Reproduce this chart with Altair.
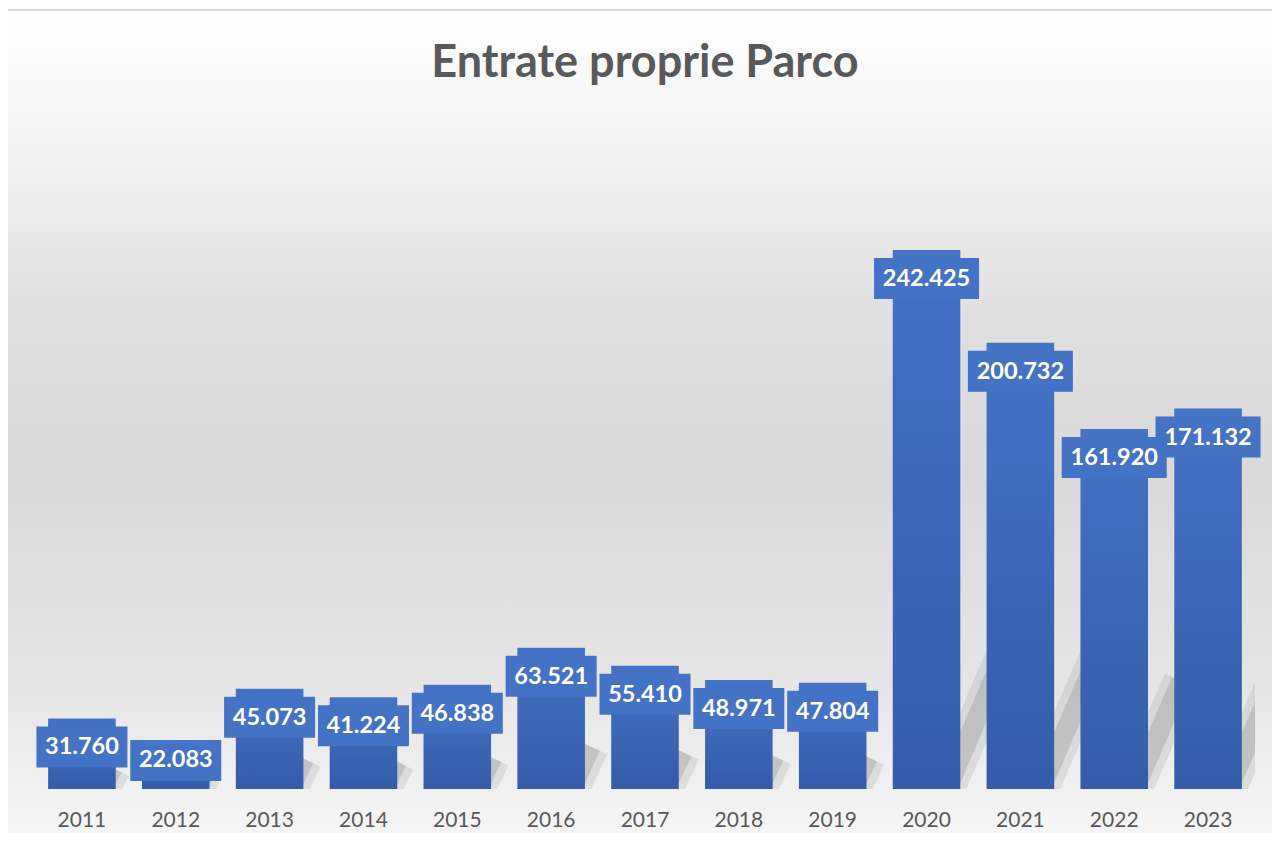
import altair as alt
import pandas as pd

years = [2011, 2012, 2013, 2014, 2015, 2016, 2017, 2018, 2019, 2020, 2021, 2022, 2023]
values = [31760, 22083, 45073, 41224, 46838, 63521, 55410, 48971, 47804,
          242425, 200732, 161920, 171132]
title_text = "Entrate proprie Parco"

df = pd.DataFrame({"year": years, "value": values})
df["label"] = [f"{v:,}".replace(",", ".") for v in values]

W, H = 1220, 667
x_enc = alt.X("year:O",
              scale=alt.Scale(paddingInner=0.28, paddingOuter=0.14),
              axis=alt.Axis(title=None, domain=False, ticks=False, labelAngle=0,
                            labelFont="Lato", labelFontSize=21, labelColor="#595959",
                            labelPadding=20, zindex=2))
y_scale = alt.Scale(domain=[0, 300000])

base = alt.Chart(df)

bg = alt.Chart(pd.DataFrame({"k": [0]})).mark_rect(
    color=alt.Gradient(gradient="linear", x1=0, y1=0, x2=0, y2=1, stops=[
        alt.GradientStop(color="#ffffff", offset=0),
        alt.GradientStop(color="#f3f3f3", offset=0.15),
        alt.GradientStop(color="#dfdfdf", offset=0.35),
        alt.GradientStop(color="#d9d9d9", offset=0.53),
        alt.GradientStop(color="#e6e6e6", offset=0.78),
        alt.GradientStop(color="#f6f6f6", offset=0.95),
        alt.GradientStop(color="#fdfdfd", offset=1),
    ]),
    stroke="#d9d9d9", strokeWidth=2,
).encode(x=alt.value(-28), x2=alt.value(1250), y=alt.value(-112), y2=alt.value(760))

# soft diagonal "perspective" shadow behind each bar
def shadow_layer(width, opacity):
    return base.transform_calculate(
        shadow_top="datum.value * 0.3", zero="0"
    ).mark_rule(
        color="#9a9a9a", strokeWidth=width, opacity=opacity, strokeCap="butt",
        clip=True, xOffset=22, yOffset=-4,
        x2Offset={"expr": "22 + datum.value * 0.000278"},
    ).encode(
        x=x_enc, x2="year:O",
        y=alt.Y("zero:Q", scale=y_scale, axis=None), y2="shadow_top:Q",
    )

sh1 = shadow_layer(36, 0.22)
sh2 = shadow_layer(20, 0.38)

bars = base.mark_bar(
    color=alt.Gradient(gradient="linear", x1=0, y1=0, x2=0, y2=1, stops=[
        alt.GradientStop(color="#4573c5", offset=0),
        alt.GradientStop(color="#345ca8", offset=1),
    ])
).encode(x=x_enc, y=alt.Y("value:Q", scale=y_scale, axis=None))

def label_layer(filt, box_w, y_off, dy):
    b = base.transform_filter(filt).mark_bar(
        color="#4472c4", width=box_w, yOffset=y_off, y2Offset=y_off + 41
    ).encode(x=x_enc, y=alt.Y("value:Q", scale=y_scale, axis=None), y2="value:Q")
    t = base.transform_filter(filt).mark_text(
        font="Lato", fontWeight="bold", fontSize=23.5, color="white",
        baseline="middle", dy=dy
    ).encode(x=x_enc, y=alt.Y("value:Q", scale=y_scale, axis=None), text="label:N")
    return b, t

b1, t1 = label_layer("datum.value < 25000", 91, 0, 20)
b2, t2 = label_layer("datum.value >= 25000 && datum.value < 100000", 91, 8, 29)
b3, t3 = label_layer("datum.value >= 100000", 105, 8, 29)

title = alt.Chart(pd.DataFrame({"t": [title_text]})).mark_text(
    font="Lato", fontWeight="bold", fontSize=45, color="#595959",
    baseline="alphabetic", align="center"
).encode(x=alt.value(W / 2), y=alt.value(-45), text="t:N")

chart = alt.layer(bg, sh1, sh2, bars, b1, b2, b3, t1, t2, t3, title).properties(
    width=W, height=H,
    autosize=alt.AutoSizeParams(type="none"),
    padding={"left": 27, "top": 114, "right": 17, "bottom": 44},
).configure_view(stroke=None).configure(background="white")

chart.save("out.html", embed_options={"renderer": "svg", "actions": False})
